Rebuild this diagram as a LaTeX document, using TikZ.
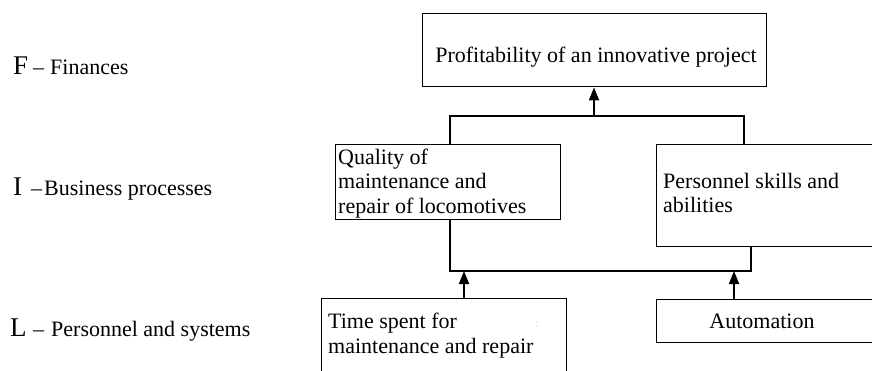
\documentclass[tikz,border=0pt]{standalone}
\usepackage{fontspec}
\setmainfont{Liberation Serif}
\usetikzlibrary{arrows.meta}
\begin{document}
\begin{tikzpicture}[x=1pt,y=-1pt,
  box/.style={draw,line width=1.4pt,inner sep=0pt,anchor=north west},
  txt/.style={anchor=base west,inner sep=0pt,font=\fontsize{22}{24.5}\selectfont},
  lbl/.style={anchor=base west,inner sep=0pt,font=\fontsize{22}{24.5}\selectfont},
  big/.style={anchor=base west,inner sep=0pt,font=\fontsize{27}{29}\selectfont},
  conn/.style={line width=1.4pt},
  arr/.style={line width=1.8pt,-{Triangle[length=13pt,width=10pt]}}]
\useasboundingbox (0,0) rectangle (872,370);
\clip (0,0) rectangle (872,370);
% boxes
\node[box,minimum width=344pt,minimum height=73.5pt] (top) at (422,12.5) {};
\node[box,minimum width=225pt,minimum height=75pt] (q) at (335,144) {};
\node[box,minimum width=230pt,minimum height=102pt] (p) at (656,144) {};
\node[box,minimum width=245pt,minimum height=90pt] (t) at (321,298) {};
\node[box,minimum width=230pt,minimum height=43pt] (a) at (656,299) {};
% box texts
\node[txt,anchor=base] (toptx) at (596,62) {Profitability of an innovative project};
\node[txt] (q1) at (338,164) {Quality of};
\node[txt] (q2) at (338,188.5) {maintenance and};
\node[txt] (q3) at (338,213) {repair of locomotives};
\node[txt] (p1) at (663,188) {Personnel skills and};
\node[txt] (p2) at (663,212) {abilities};
\node[txt] (t1) at (328,328) {Time spent for};
\node[txt] (t2) at (328,353) {maintenance and repair};
\node[txt,anchor=base] (a1t) at (762,328) {Automation};
\node[anchor=base,inner sep=0pt,text=black!25,font=\fontsize{10}{10}\selectfont] (dot) at (537,326) {:};
% left labels
\node[big] (F) at (13,74) {F};
\node[lbl] (Fd) at (33,74) {–};
\node[lbl] (Ft) at (50,74) {Finances};
\node[big] (I) at (13,195) {I};
\node[lbl] (Id) at (31,195) {–};
\node[lbl] (It) at (44,195) {Business processes};
\node[big] (L) at (10,336) {L};
\node[lbl] (Ld) at (33,336) {–};
\node[lbl] (Lt) at (51,336) {Personnel and systems};
% connectors
\coordinate (j1) at (594,116);
\coordinate (ql) at (450,116);
\coordinate (pr) at (744,116);
\draw[conn] (q.north -| ql) -- (ql) -- (pr) -- (p.north -| pr);
\draw[arr] (j1) -- (top.south -| j1);
\coordinate (lq) at (450,271);
\coordinate (lp) at (751,271);
\draw[conn] (q.south -| lq) -- (lq) -- (lp) -- (p.south -| lp);
\coordinate (b1) at (464,271);
\coordinate (b2) at (734,271);
\draw[arr] (t.north -| b1) -- (b1);
\draw[arr] (a.north -| b2) -- (b2);
\end{tikzpicture}
\end{document}
